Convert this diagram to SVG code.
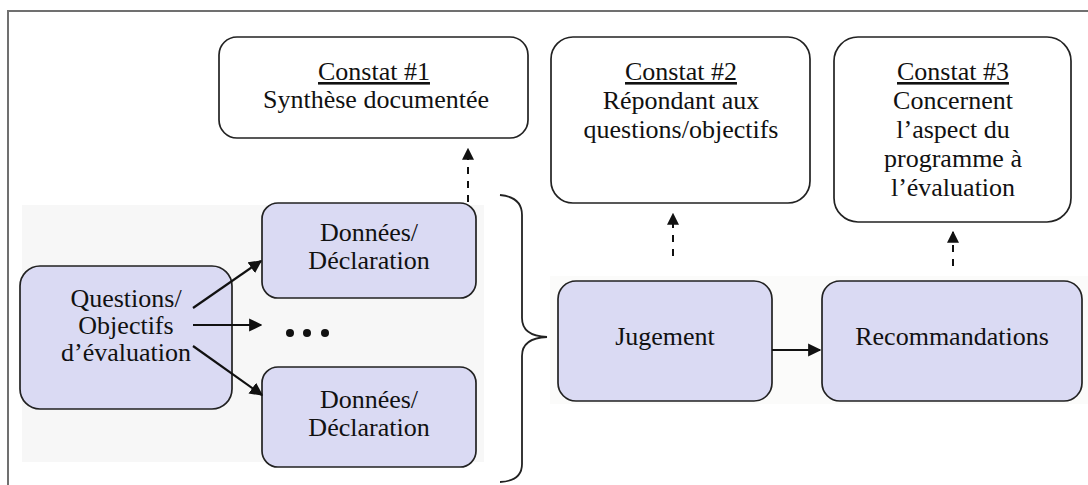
<svg xmlns="http://www.w3.org/2000/svg" width="1088" height="485" viewBox="0 0 1088 485">
  <style>
    .frame { stroke: #707070; stroke-width: 2; fill: none; }
    .panel { fill: #f7f7f7; stroke: none; }
    .note { fill: #ffffff; stroke: #222; stroke-width: 1.7; }
    .step { fill: #dadaf3; stroke: #222; stroke-width: 1.7; }
    .lbl { font-family: "Liberation Serif", "Times New Roman", serif; font-size: 26px; fill: #111; text-anchor: middle; }
    .ul { text-decoration: underline; }
    .solid { stroke: #111; stroke-width: 2.2; fill: none; }
    .dash { stroke: #111; stroke-width: 2; fill: none; stroke-dasharray: 7 7; }
    .brace { stroke: #222; stroke-width: 1.8; fill: none; }
  </style>
  <defs>
    <marker id="head" viewBox="0 0 10 10" refX="9" refY="5" markerWidth="6" markerHeight="6" markerUnits="strokeWidth" orient="auto">
      <path d="M0,0 L10,5 L0,10 z" fill="#111"/>
    </marker>
  </defs>

  <!-- outer frame: top and left edges only -->
  <path class="frame" d="M8,485 L8,11 L1088,11"/>

  <!-- soft backdrops behind the process steps -->
  <rect class="panel" x="22" y="205" width="462" height="257"/>
  <rect x="550" y="276" width="538" height="128" fill="#fbfbfa"/>

  <!-- findings -->
  <g id="constat1">
    <rect class="note" x="219" y="37" width="309" height="101" rx="18"/>
    <text class="lbl" x="374" y="80"><tspan class="ul">Constat #1</tspan></text>
    <text class="lbl" x="376" y="108">Synthèse documentée</text>
  </g>
  <g id="constat2">
    <rect class="note" x="551" y="37" width="259" height="166" rx="22"/>
    <text class="lbl" x="681" y="80"><tspan class="ul">Constat #2</tspan></text>
    <text class="lbl" x="681" y="109">Répondant aux</text>
    <text class="lbl" x="681" y="138">questions/objectifs</text>
  </g>
  <g id="constat3">
    <rect class="note" x="834" y="37" width="237" height="185" rx="24"/>
    <text class="lbl" x="953" y="80"><tspan class="ul">Constat #3</tspan></text>
    <text class="lbl" x="953" y="109">Concernent</text>
    <text class="lbl" x="953" y="138">l’aspect du</text>
    <text class="lbl" x="953" y="167">programme à</text>
    <text class="lbl" x="953" y="196">l’évaluation</text>
  </g>

  <!-- process steps -->
  <g id="questions">
    <rect class="step" x="20" y="266" width="212" height="143" rx="20"/>
    <text class="lbl" x="126" y="307">Questions/</text>
    <text class="lbl" x="126" y="334">Objectifs</text>
    <text class="lbl" x="126" y="361">d’évaluation</text>
  </g>
  <g id="donnees1">
    <rect class="step" x="262" y="203" width="214" height="95" rx="16"/>
    <text class="lbl" x="369" y="241">Données/</text>
    <text class="lbl" x="369" y="269">Déclaration</text>
  </g>
  <g id="ellipsis">
    <circle cx="290" cy="333" r="4" fill="#111"/>
    <circle cx="307" cy="333" r="4" fill="#111"/>
    <circle cx="325" cy="333" r="4" fill="#111"/>
  </g>
  <g id="donnees2">
    <rect class="step" x="262" y="367" width="214" height="100" rx="16"/>
    <text class="lbl" x="369" y="408">Données/</text>
    <text class="lbl" x="369" y="436">Déclaration</text>
  </g>
  <g id="jugement">
    <rect class="step" x="558" y="281" width="214" height="120" rx="18"/>
    <text class="lbl" x="665" y="345">Jugement</text>
  </g>
  <g id="recommandations">
    <rect class="step" x="822" y="281" width="260" height="120" rx="18"/>
    <text class="lbl" x="952" y="345">Recommandations</text>
  </g>

  <!-- connectors -->
  <g id="connectors">
    <line class="solid" x1="193" y1="308" x2="261" y2="261" marker-end="url(#head)"/>
    <line class="solid" x1="193" y1="325" x2="261" y2="325" marker-end="url(#head)"/>
    <line class="solid" x1="193" y1="346" x2="262" y2="395" marker-end="url(#head)"/>
    <line class="solid" x1="772" y1="350" x2="820" y2="350" marker-end="url(#head)"/>
    <line class="dash" x1="468" y1="202" x2="468" y2="149" marker-end="url(#head)"/>
    <line class="dash" x1="673" y1="256" x2="673" y2="214" marker-end="url(#head)"/>
    <line class="dash" x1="953" y1="266" x2="953" y2="232" marker-end="url(#head)"/>
    <path class="brace" d="M500,195 Q522,197 522,215 L522,318 Q522,336 547,337 Q522,338 522,356 L522,464 Q522,481 500,482"/>
  </g>
</svg>
